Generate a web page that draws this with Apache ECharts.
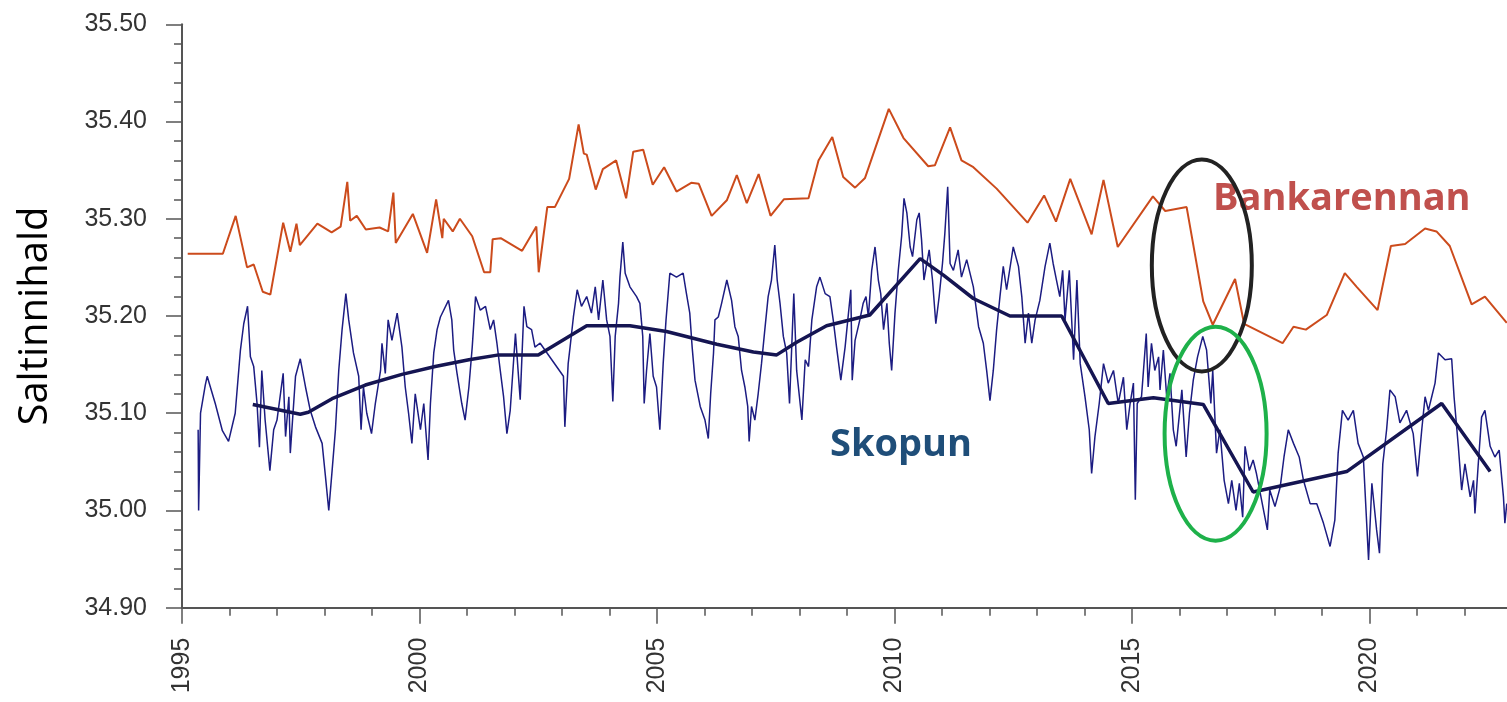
<!DOCTYPE html>
<html>
<head>
<meta charset="utf-8">
<script src="https://cdn.jsdelivr.net/npm/echarts@6/dist/echarts.min.js"></script>
<style>
html,body{margin:0;padding:0;background:#fff;overflow:hidden;width:1507px;height:702px;}
#chart{width:1620px;height:702px;}
</style>
</head>
<body>
<div id="chart"></div>
<script>
// ---- data (year, salinity) ----
const bankarennan = [
[1995.12,35.264],[1995.86,35.264],[1996.13,35.303],[1996.37,35.250],[1996.51,35.253],[1996.70,35.225],[1996.86,35.222],
[1997.13,35.296],[1997.28,35.266],[1997.41,35.295],[1997.48,35.273],[1997.85,35.295],[1998.15,35.286],[1998.34,35.292],
[1998.48,35.338],[1998.54,35.298],[1998.68,35.303],[1998.87,35.289],[1999.16,35.291],[1999.34,35.287],[1999.45,35.327],
[1999.50,35.275],[1999.86,35.305],[2000.16,35.265],[2000.35,35.320],[2000.48,35.280],[2000.51,35.300],[2000.70,35.287],
[2000.85,35.300],[2001.11,35.282],[2001.36,35.245],[2001.49,35.245],[2001.54,35.279],[2001.71,35.280],[2002.16,35.267],
[2002.46,35.292],[2002.51,35.245],[2002.69,35.312],[2002.85,35.312],[2003.15,35.341],[2003.35,35.397],[2003.46,35.367],
[2003.52,35.366],[2003.71,35.330],[2003.86,35.351],[2004.14,35.360],[2004.35,35.321],[2004.50,35.369],[2004.71,35.371],
[2004.91,35.335],[2005.15,35.353],[2005.41,35.328],[2005.72,35.337],[2005.88,35.336],[2006.15,35.303],[2006.47,35.319],
[2006.68,35.345],[2006.89,35.316],[2007.14,35.346],[2007.39,35.303],[2007.67,35.320],[2008.19,35.321],[2008.40,35.360],
[2008.69,35.384],[2008.92,35.343],[2009.17,35.332],[2009.38,35.342],[2009.88,35.413],[2010.19,35.383],[2010.71,35.354],
[2010.85,35.355],[2011.17,35.394],[2011.41,35.360],[2011.66,35.353],[2012.15,35.331],[2012.80,35.296],[2013.15,35.324],
[2013.40,35.297],[2013.70,35.341],[2014.15,35.284],[2014.40,35.340],[2014.70,35.271],[2015.44,35.323],[2015.70,35.308],
[2016.15,35.312],[2016.50,35.215],[2016.70,35.191],[2017.17,35.238],[2017.36,35.192],[2018.17,35.172],[2018.40,35.189],
[2018.66,35.186],[2019.10,35.201],[2019.48,35.244],[2019.73,35.230],[2020.17,35.206],[2020.45,35.272],[2020.75,35.274],
[2021.17,35.290],[2021.41,35.287],[2021.69,35.272],[2022.15,35.212],[2022.43,35.220],[2022.89,35.193]
];

const skopun = [
[1995.34,35.083],[1995.35,35.000],[1995.39,35.100],[1995.49,35.129],[1995.53,35.138],[1995.70,35.110],[1995.85,35.082],
[1995.98,35.071],[1996.12,35.100],[1996.23,35.165],[1996.30,35.192],[1996.38,35.210],[1996.44,35.158],[1996.51,35.148],
[1996.58,35.110],[1996.63,35.065],[1996.68,35.144],[1996.75,35.093],[1996.85,35.041],[1996.93,35.083],[1997.00,35.093],
[1997.13,35.141],[1997.18,35.076],[1997.25,35.117],[1997.28,35.059],[1997.39,35.138],[1997.49,35.156],[1997.60,35.127],
[1997.70,35.103],[1997.81,35.086],[1997.95,35.069],[1998.02,35.035],[1998.09,35.000],[1998.16,35.041],[1998.23,35.083],
[1998.30,35.144],[1998.37,35.186],[1998.45,35.223],[1998.51,35.196],[1998.61,35.162],[1998.72,35.138],[1998.77,35.083],
[1998.82,35.127],[1998.89,35.100],[1998.99,35.079],[1999.07,35.110],[1999.18,35.144],[1999.21,35.172],[1999.28,35.141],
[1999.34,35.196],[1999.42,35.175],[1999.53,35.203],[1999.63,35.168],[1999.70,35.127],[1999.77,35.100],[1999.84,35.069],
[1999.91,35.120],[2000.02,35.083],[2000.09,35.110],[2000.18,35.052],[2000.23,35.110],[2000.30,35.162],[2000.37,35.186],
[2000.44,35.199],[2000.61,35.216],[2000.68,35.196],[2000.72,35.165],[2000.79,35.141],[2000.89,35.110],[2000.96,35.093],
[2001.04,35.127],[2001.11,35.168],[2001.18,35.220],[2001.28,35.206],[2001.39,35.210],[2001.49,35.186],[2001.56,35.196],
[2001.63,35.172],[2001.70,35.144],[2001.77,35.117],[2001.84,35.079],[2001.91,35.103],[2002.02,35.182],[2002.09,35.134],
[2002.12,35.114],[2002.20,35.210],[2002.26,35.189],[2002.36,35.186],[2002.43,35.168],[2002.54,35.172],[2003.03,35.138],
[2003.06,35.086],[2003.13,35.151],[2003.17,35.168],[2003.24,35.199],[2003.32,35.227],[2003.41,35.210],[2003.52,35.220],
[2003.62,35.203],[2003.70,35.230],[2003.77,35.196],[2003.86,35.237],[2003.94,35.196],[2004.01,35.179],[2004.07,35.112],
[2004.12,35.179],[2004.19,35.213],[2004.22,35.240],[2004.28,35.276],[2004.33,35.244],[2004.43,35.230],[2004.57,35.220],
[2004.64,35.213],[2004.70,35.179],[2004.73,35.110],[2004.78,35.144],[2004.85,35.182],[2004.92,35.138],[2004.99,35.127],
[2005.06,35.083],[2005.13,35.151],[2005.19,35.196],[2005.27,35.244],[2005.41,35.240],[2005.55,35.244],[2005.62,35.223],
[2005.69,35.203],[2005.74,35.168],[2005.80,35.134],[2005.91,35.107],[2006.01,35.093],[2006.08,35.074],[2006.13,35.120],
[2006.19,35.162],[2006.22,35.196],[2006.29,35.199],[2006.36,35.213],[2006.47,35.237],[2006.57,35.216],[2006.64,35.189],
[2006.71,35.179],[2006.78,35.144],[2006.85,35.127],[2006.91,35.107],[2006.94,35.071],[2006.99,35.107],[2007.06,35.093],
[2007.13,35.120],[2007.20,35.151],[2007.27,35.186],[2007.34,35.220],[2007.41,35.237],[2007.48,35.273],[2007.53,35.237],
[2007.59,35.213],[2007.66,35.179],[2007.73,35.162],[2007.79,35.110],[2007.88,35.223],[2007.94,35.144],[2008.05,35.093],
[2008.12,35.155],[2008.19,35.148],[2008.26,35.196],[2008.36,35.230],[2008.43,35.240],[2008.54,35.223],[2008.64,35.220],
[2008.71,35.196],[2008.78,35.168],[2008.87,35.134],[2008.96,35.168],[2009.08,35.227],[2009.11,35.134],[2009.17,35.175],
[2009.27,35.196],[2009.34,35.213],[2009.40,35.220],[2009.45,35.199],[2009.52,35.247],[2009.59,35.271],[2009.66,35.237],
[2009.71,35.223],[2009.77,35.186],[2009.84,35.213],[2009.89,35.172],[2009.94,35.144],[2010.01,35.203],[2010.08,35.247],
[2010.15,35.282],[2010.20,35.321],[2010.26,35.306],[2010.33,35.271],[2010.38,35.261],[2010.47,35.299],[2010.52,35.306],
[2010.57,35.278],[2010.62,35.237],[2010.68,35.254],[2010.73,35.268],[2010.80,35.237],[2010.87,35.192],[2010.94,35.220],
[2011.01,35.254],[2011.06,35.285],[2011.12,35.333],[2011.17,35.254],[2011.24,35.247],[2011.34,35.268],[2011.41,35.240],
[2011.52,35.258],[2011.66,35.230],[2011.77,35.189],[2011.87,35.172],[2011.94,35.144],[2012.01,35.113],[2012.08,35.144],
[2012.15,35.186],[2012.22,35.220],[2012.29,35.251],[2012.36,35.227],[2012.50,35.271],[2012.61,35.251],[2012.68,35.220],
[2012.75,35.172],[2012.82,35.203],[2012.89,35.172],[2012.96,35.196],[2013.06,35.216],[2013.17,35.251],[2013.27,35.275],
[2013.34,35.254],[2013.41,35.237],[2013.48,35.220],[2013.54,35.247],[2013.59,35.196],[2013.68,35.247],[2013.77,35.155],
[2013.84,35.237],[2013.91,35.151],[2014.01,35.117],[2014.10,35.083],[2014.15,35.038],[2014.22,35.076],[2014.31,35.110],
[2014.40,35.151],[2014.50,35.131],[2014.61,35.144],[2014.71,35.110],[2014.82,35.137],[2014.89,35.083],[2014.96,35.110],
[2015.03,35.131],[2015.07,35.011],[2015.11,35.110],[2015.20,35.117],[2015.30,35.182],[2015.34,35.127],[2015.41,35.172],
[2015.48,35.144],[2015.56,35.158],
[2015.59,35.124],[2015.66,35.165],[2015.73,35.117],[2015.80,35.141],[2015.87,35.083],[2015.93,35.066],[2016.05,35.124],
[2016.14,35.055],[2016.21,35.100],[2016.29,35.134],[2016.38,35.158],[2016.49,35.179],[2016.57,35.165],[2016.66,35.110],
[2016.70,35.144],[2016.78,35.059],[2016.85,35.083],[2016.94,35.031],[2017.03,35.007],[2017.10,35.031],[2017.19,35.000],
[2017.26,35.028],[2017.33,34.993],[2017.38,35.066],[2017.47,35.041],[2017.55,35.052],[2017.62,35.038],[2017.85,34.980],
[2017.90,35.021],[2018.01,35.004],[2018.12,35.024],[2018.20,35.055],[2018.29,35.083],[2018.40,35.069],[2018.52,35.055],
[2018.61,35.031],[2018.75,35.007],[2018.89,35.007],[2019.03,34.987],[2019.17,34.963],[2019.27,34.990],[2019.34,35.059],
[2019.43,35.103],[2019.55,35.093],[2019.66,35.103],[2019.76,35.069],[2019.87,35.055],[2019.98,34.949],[2020.05,35.028],
[2020.15,34.980],[2020.21,34.956],[2020.28,35.048],[2020.36,35.083],[2020.43,35.124],[2020.54,35.117],[2020.64,35.090],
[2020.78,35.103],[2020.92,35.079],[2021.01,35.035],[2021.10,35.083],[2021.17,35.117],[2021.24,35.103],[2021.31,35.117],
[2021.38,35.131],[2021.45,35.162],[2021.59,35.155],[2021.73,35.156],[2021.78,35.117],[2021.87,35.066],[2021.94,35.021],
[2022.01,35.048],[2022.12,35.014],[2022.19,35.031],[2022.22,34.997],[2022.29,35.048],[2022.36,35.096],[2022.43,35.103],
[2022.54,35.066],[2022.64,35.055],[2022.73,35.062],[2022.82,35.014],[2022.85,34.987],[2022.89,35.007]
];

const skopunTrend = [
[1996.49,35.109],[1997.49,35.099],[1997.66,35.101],[1998.16,35.115],[1998.86,35.129],[1999.63,35.140],[2000.33,35.148],
[2001.04,35.155],[2001.67,35.160],[2002.50,35.160],[2003.52,35.190],[2004.43,35.190],[2005.20,35.184],[2006.26,35.171],
[2007.03,35.163],[2007.52,35.160],[2007.94,35.173],[2008.57,35.190],[2009.48,35.201],[2010.54,35.259],[2011.03,35.242],
[2011.66,35.218],[2012.43,35.200],[2013.52,35.200],[2014.50,35.110],[2015.45,35.116],[2016.50,35.109],[2017.55,35.019],
[2019.52,35.040],[2021.52,35.110],[2022.54,35.040]
];

// annotation ellipse centres in data units
const ellipseCenters = [[2016.47, 35.252], [2016.76, 35.079]];

const yTitle = 'Saltinnihald';
const labelBank = 'Bankarennan';
const labelSkop = 'Skopun';

const chart = echarts.init(document.getElementById('chart'), null, {renderer: 'canvas', width: 1620, height: 702});
const axisColor = '#555';
const option = {
  animation: false,
  backgroundColor: '#fff',
  grid: {left: 182, top: 24.3, width: 1425, height: 583.4, containLabel: false},
  xAxis: {
    type: 'value', min: 1995, max: 2025, interval: 5,
    axisLine: {show: true, onZero: false, lineStyle: {color: axisColor, width: 2}},
    axisTick: {show: true, length: 16, lineStyle: {color: axisColor, width: 1.5}},
    minorTick: {show: true, splitNumber: 5, length: 8, lineStyle: {color: axisColor, width: 1.5}},
    splitLine: {show: false},
    axisLabel: {rotate: 90, margin: 30, color: '#333', fontSize: 25, fontFamily: 'Liberation Sans, Arial, sans-serif',
      formatter: v => String(v)}
  },
  yAxis: {
    type: 'value', min: 34.9, max: 35.5, interval: 0.1,
    axisLine: {show: true, onZero: false, lineStyle: {color: axisColor, width: 2}},
    axisTick: {show: true, length: 16, lineStyle: {color: axisColor, width: 1.5}},
    minorTick: {show: true, splitNumber: 5, length: 8, lineStyle: {color: axisColor, width: 1.5}},
    splitLine: {show: false},
    axisLabel: {margin: 35, color: '#333', fontSize: 25, fontFamily: 'Liberation Sans, Arial, sans-serif',
      formatter: v => v.toFixed(2)}
  },
  series: [
    {name: 'Bankarennan', type: 'line', data: bankarennan, symbol: 'none', z: 3,
      lineStyle: {color: '#cc4b1c', width: 2}},
    {name: 'Skopun', type: 'line', data: skopun, symbol: 'none', z: 2,
      lineStyle: {color: '#1c1c82', width: 1.5}},
    {name: 'Skopun trend', type: 'line', data: skopunTrend, symbol: 'none', z: 4,
      lineStyle: {color: '#151552', width: 3.5}}
  ]
};
chart.setOption(option);

const c1 = chart.convertToPixel({gridIndex: 0}, ellipseCenters[0]);
const c2 = chart.convertToPixel({gridIndex: 0}, ellipseCenters[1]);
chart.setOption({
  graphic: [
    {type: 'text', x: 36, y: 316, rotation: Math.PI / 2,
      style: {text: yTitle, font: '40px "Open Sans", sans-serif', fill: '#000', align: 'center', verticalAlign: 'middle'}},
    {type: 'text', left: 1213, top: 180,
      style: {text: labelBank, font: 'bold 38px "Open Sans", sans-serif', fill: '#c0504d'}},
    {type: 'text', left: 830, top: 426,
      style: {text: labelSkop, font: 'bold 38px "Open Sans", sans-serif', fill: '#1f4e79'}},
    {type: 'ellipse', shape: {cx: c1[0], cy: c1[1], rx: 50, ry: 106}, z: 10,
      style: {fill: 'none', stroke: '#222', lineWidth: 4}},
    {type: 'ellipse', shape: {cx: c2[0], cy: c2[1], rx: 51, ry: 107}, z: 10,
      style: {fill: 'none', stroke: '#1eb14a', lineWidth: 4}}
  ]
});
</script>
</body>
</html>
